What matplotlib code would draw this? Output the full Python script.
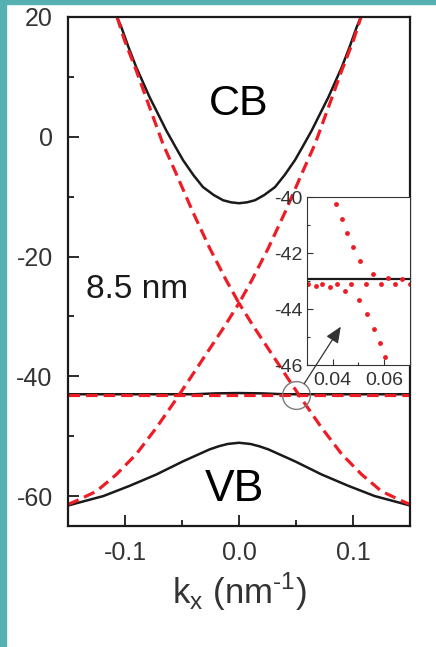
import numpy as np
import matplotlib
matplotlib.use('Agg')
import matplotlib.pyplot as plt
from matplotlib.ticker import MultipleLocator
from matplotlib.patches import Rectangle

plt.rcParams['font.family'] = ['Liberation Sans', 'DejaVu Sans']
plt.rcParams['axes.unicode_minus'] = False

# bandas (k en nm^-1, E en meV)
k_cb = [-0.107, -0.1032, -0.097, -0.0901, -0.084, -0.0784, -0.071, -0.0638, -0.056, -0.0491, -0.04,
        -0.0316, -0.022, -0.014, -0.007, 0.0, 0.007, 0.014, 0.022, 0.0316, 0.04, 0.0491, 0.056,
        0.0638, 0.071, 0.0784, 0.084, 0.0901, 0.097, 0.1032, 0.107]
e_cb = [20.0, 18.3, 15.0, 11.6, 9.0, 6.6, 3.8, 1.05, -1.6, -3.9, -6.4,
        -8.4, -9.75, -10.6, -10.95, -11.1, -10.95, -10.6, -9.75, -8.4, -6.4, -3.9, -1.6,
        1.05, 3.8, 6.6, 9.0, 11.6, 15.0, 18.3, 20.0]

k_vb = [-0.15, -0.1485, -0.119, -0.096, -0.0725, -0.0491, -0.0257, -0.018, -0.01, 0.0,
        0.01, 0.018, 0.0257, 0.0491, 0.0725, 0.096, 0.119, 0.1485, 0.15]
e_vb = [-61.6, -61.5, -60.0, -58.3, -56.4, -54.2, -52.2, -51.7, -51.3, -51.1,
        -51.3, -51.7, -52.2, -54.2, -56.4, -58.3, -60.0, -61.5, -61.6]

k_flat = [-0.15, -0.04, -0.02, 0.0, 0.02, 0.04, 0.15]
e_flat = [-43.0, -43.0, -42.85, -42.8, -42.85, -43.0, -43.0]

# conos de Dirac (rojo discontinuo)
k_up = [-0.107, -0.1003, -0.0901, -0.0784, -0.0667, -0.055, -0.0404, -0.0257, -0.0111, 0.0,
        0.0111, 0.0257, 0.0404, 0.055, 0.0667, 0.0784, 0.0901, 0.1003, 0.107]
e_up = [20.0, 16.05, 11.05, 4.9, -1.2, -6.2, -12.6, -18.6, -24.0, -27.8,
        -24.0, -18.6, -12.6, -6.2, -1.2, 4.9, 11.05, 16.05, 20.0]

k_lo = [-0.15, -0.1427, -0.125, -0.1076, -0.0901, -0.0725, -0.055, -0.0462, -0.0243, -0.0125, -0.0053, 0.0,
        0.0053, 0.0125, 0.0243, 0.0462, 0.055, 0.0725, 0.0901, 0.1076, 0.125, 0.1427, 0.15]
e_lo = [-61.4, -60.8, -59.2, -56.4, -53.0, -48.6, -43.8, -41.3, -35.0, -31.6, -29.4, -27.8,
        -29.4, -31.6, -35.0, -41.3, -43.8, -48.6, -53.0, -56.4, -59.2, -60.8, -61.4]

k_rflat = [-0.15, 0.15]
e_rflat = [-43.15, -43.15]

# zoom (inset)
kz_up = [0.0415, 0.0435, 0.0455, 0.0479, 0.0506, 0.0556, 0.0613, 0.0668]
ez_up = [-40.25, -40.76, -41.26, -41.78, -42.27, -42.73, -42.87, -42.93]
kz_flat = [0.0306, 0.0335, 0.0361, 0.0392, 0.0418, 0.0473, 0.0529, 0.0586, 0.0642, 0.0699]
ez_flat = [-43.10, -43.17, -43.10, -43.22, -43.10, -43.10, -43.10, -43.10, -43.10, -43.10]
kz_lo = [0.0448, 0.0502, 0.0535, 0.0561, 0.0583, 0.0605]
ez_lo = [-43.33, -43.68, -44.18, -44.69, -45.20, -45.72]
kz_black = [0.03, 0.07]
ez_black = [-42.92, -42.92]

rojo = '#ee1c25'
gris = '#333333'

fig = plt.figure(figsize=(4.36, 6.47), dpi=100)

# bordes turquesa de la diapositiva
fig.add_artist(Rectangle((0, 0), 6/436, 1, transform=fig.transFigure, color='#55b1b1', zorder=0))
fig.add_artist(Rectangle((0, 1 - 4/647), 1, 4/647, transform=fig.transFigure, color='#55b1b1', zorder=0))

ax = fig.add_axes([68/436, 1 - 526/647, (410 - 68)/436, (526 - 17)/647])

ax.plot(k_cb, e_cb, color='#1a1a1a', lw=1.8)
ax.plot(k_vb, e_vb, color='#1a1a1a', lw=1.8)
ax.plot(k_flat, e_flat, color='#1a1a1a', lw=1.8)
for kk, ee in [(k_up, e_up), (k_lo, e_lo), (k_rflat, e_rflat)]:
    ax.plot(kk, ee, color=rojo, lw=2.3, dashes=(3.6, 1.9))

# circulo marcando el cruce
ax.plot(0.0503, -43.1, 'o', ms=20, mfc='none', mec='#7a7a7a', mew=1.0, zorder=5)

ax.set_xlim(-0.15, 0.15)
ax.set_ylim(-65, 20)
ax.xaxis.set_major_locator(MultipleLocator(0.1))
ax.xaxis.set_minor_locator(MultipleLocator(0.05))
ax.yaxis.set_major_locator(MultipleLocator(20))
ax.yaxis.set_minor_locator(MultipleLocator(10))
ax.xaxis.set_major_formatter(plt.FuncFormatter(lambda v, p: '%.1f' % v))
ax.tick_params(which='both', direction='in', top=False, right=False, width=1.3, color='#1a1a1a')
ax.tick_params(which='major', length=8, labelsize=18, labelcolor=gris, pad=11)
ax.tick_params(which='minor', length=4.5)
for s in ax.spines.values():
    s.set_linewidth(1.6)
    s.set_color('#1a1a1a')

ax.set_xlabel('k$_\\mathregular{x}$ (nm$^\\mathregular{\u2010 1}$)', fontsize=25, color=gris)
ax.xaxis.set_label_coords(0.5, -0.088)

ax.text(0.0, 3.7, 'CB', fontsize=31, ha='center', va='baseline')
ax.text(-0.004, -60.8, 'VB', fontsize=32, ha='center', va='baseline')
ax.text(-0.134, -26.95, '8.5 nm', fontsize=24, ha='left', va='baseline', color='#1a1a1a')

# recuadro ampliado
axin = fig.add_axes([306.7/436, 1 - 365.3/647, (410 - 306.7)/436, 168/647])
axin.plot(kz_black, ez_black, color='#1a1a1a', lw=1.6)
axin.plot(kz_up, ez_up, 'o', color=rojo, ms=3.5, mec='none')
axin.plot(kz_flat, ez_flat, 'o', color=rojo, ms=3.5, mec='none')
axin.plot(kz_lo, ez_lo, 'o', color=rojo, ms=3.5, mec='none')
axin.set_xlim(0.03, 0.07)
axin.set_ylim(-46, -40)
axin.xaxis.set_major_locator(MultipleLocator(0.02))
axin.xaxis.set_minor_locator(MultipleLocator(0.01))
axin.yaxis.set_major_locator(MultipleLocator(2))
axin.yaxis.set_minor_locator(MultipleLocator(1))
axin.tick_params(which='both', direction='in', top=False, right=False, width=0.8, color=gris)
axin.tick_params(which='major', length=4, labelsize=14, labelcolor=gris, pad=3)
axin.tick_params(which='minor', length=2.5)
axin.tick_params(axis='x', pad=5)
for s in axin.spines.values():
    s.set_linewidth(0.8)
    s.set_color(gris)

axin.annotate('', xy=(0.0432, -44.62), xytext=(0.0573, -41.2), textcoords=ax.transData,
              arrowprops=dict(arrowstyle='-|>,head_length=0.7,head_width=0.3', color=gris,
                              lw=0.9, mutation_scale=14, shrinkA=0, shrinkB=0),
              annotation_clip=False)

plt.savefig('out.png', dpi=100)
